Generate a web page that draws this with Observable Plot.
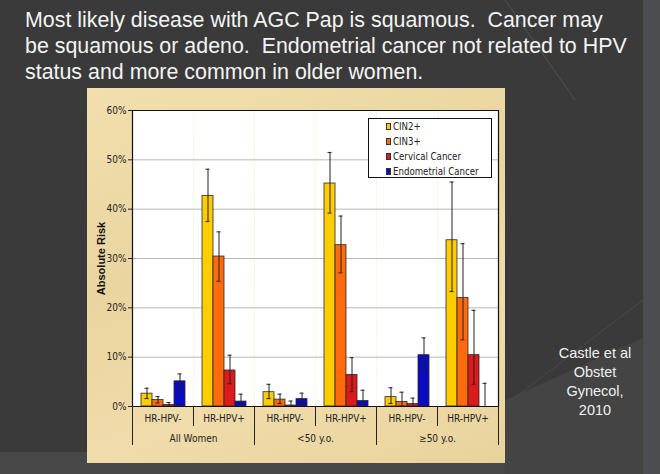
<!DOCTYPE html>
<html>
<head>
<meta charset="utf-8">
<script src="https://cdn.jsdelivr.net/npm/d3@7"></script>
<script src="https://cdn.jsdelivr.net/npm/@observablehq/plot@0.6"></script>
<style>
  html, body { margin: 0; padding: 0; }
  body { width: 660px; height: 474px; overflow: hidden; background: #3a3a3a; }
  #slide { position: relative; width: 660px; height: 474px; }
  #bg { position: absolute; left: 0; top: 0; }
  #title { position: absolute; left: 25px; top: 7px; color: #f4f4f4;
    font-family: "Liberation Sans", Arial, sans-serif; font-size: 21.4px; line-height: 26px; white-space: pre; }
  #panel { position: absolute; left: 87px; top: 88px; width: 418px; height: 375px;
    background: linear-gradient(160deg, #f1dfad 0%, #ead59f 40%, #f0dcaa 70%, #e9d39c 100%); }
  #chart { position: absolute; left: 0; top: 0; }
  #legend { position: absolute; left: 281px; top: 30px; width: 124px; height: 60px;
    background: #fff; border: 1px solid #111; box-sizing: border-box; padding-top: 0px; }
  .lg { position: relative; height: 15px; line-height: 15px; padding-left: 24px; font-size: 9.6px; color: #222;
    font-family: "Liberation Sans Narrow", "Arial Narrow", "DejaVu Sans Condensed", sans-serif; white-space: nowrap; }
  .lg span.sw { position: absolute; left: 17px; top: 4px; width: 5px; height: 7px; border: 1px solid #333; box-sizing: border-box; }
  #cite { position: absolute; left: 545px; top: 344px; width: 100px; text-align: center; color: #f0f0f0;
    font-family: "Liberation Sans", Arial, sans-serif; font-size: 14.5px; line-height: 19px; }
  svg text { font-family: "Liberation Sans Narrow", "Arial Narrow", "DejaVu Sans Condensed", sans-serif; }
  svg text.ylab { font-family: "Liberation Sans", Arial, sans-serif; }
</style>
</head>
<body>
<div id="slide">
  <svg id="bg" width="660" height="474">
    <rect width="660" height="474" fill="#3a3a3a"/>
    <polygon points="0,452 643,452 643,474 0,474" fill="#484848"/>
    <polygon points="505,400 643,338 643,474 505,474" fill="#444"/>
    <line x1="505" y1="0" x2="575" y2="100" stroke="#4d4d4d" stroke-width="1.2"/>
    <line x1="505" y1="405" x2="643" y2="300" stroke="#4a4a4a" stroke-width="1"/>
    <rect x="643" y="0" width="17" height="474" fill="#4b4d50"/>
  </svg>
  <div id="title">Most likely disease with AGC Pap is squamous.  Cancer may
be squamous or adeno.  Endometrial cancer not related to HPV
status and more common in older women.</div>
  <div id="panel">
    <div id="chart"></div>
    <div id="legend"></div>
  </div>
  <div id="cite">Castle et al<br>Obstet<br>Gynecol,<br>2010</div>
</div>
<script>
// ---- data ----
const groups = ["All Women", "<50 y.o.", "≥50 y.o."];
const hpvStatus = ["HR-HPV-", "HR-HPV+"];
const series = ["CIN2+", "CIN3+", "Cervical Cancer", "Endometrial Cancer"];
const seriesColors = ["#ffcc00", "#ff6a0d", "#dc1a1a", "#0a0ac0"];
const yTicks = [0, 10, 20, 30, 40, 50, 60];
// absolute risk (%), one row per group × HPV status, columns in series order
const risk = [
  [2.6, 1.3, 0.3, 5.1],
  [42.7, 30.4, 7.3, 1.0],
  [2.9, 1.4, 0.2, 1.5],
  [45.2, 32.7, 6.4, 1.1],
  [1.9, 0.9, 0.5, 10.4],
  [33.7, 22.0, 10.4, 0.0]
];
const lower = [
  [1.6, 0.7, 0.0, 3.6],
  [37.5, 25.4, 4.6, 0.0],
  [1.6, 0.6, 0.0, 0.5],
  [39.2, 27.1, 3.0, 0.0],
  [0.6, 0.1, 0.0, 7.6],
  [23.3, 13.5, 4.5, 0.0]
];
const upper = [
  [3.7, 2.0, 0.8, 6.6],
  [48.1, 35.4, 10.4, 2.5],
  [4.5, 2.5, 1.1, 2.7],
  [51.5, 38.6, 9.9, 3.3],
  [3.8, 2.9, 1.7, 13.9],
  [45.5, 33.0, 19.5, 4.7]
];

// ---- build table ----
const keys = groups.flatMap(g => hpvStatus.map(h => g + "|" + h));
const rows = [];
keys.forEach((k, ci) => series.forEach((s, si) => rows.push({
  key: k, series: s, value: risk[ci][si], lo: lower[ci][si], hi: upper[ci][si]
})));

const W = 418, H = 375, mL = 44, mT = 22, mR = 6, mB = 57;
const innerH = H - mT - mB;

const separators = keys.map((k, i) => Plot.frame({
  fx: k, anchor: "left", stroke: "#222", strokeWidth: 1,
  insetTop: innerH, insetBottom: i % 2 === 0 ? -38 : -19
}));

const chart = Plot.plot({
  width: W, height: H,
  marginLeft: mL, marginTop: mT, marginRight: mR, marginBottom: mB,
  style: {background: "transparent", fontSize: "10px", color: "#222", overflow: "visible"},
  fx: {domain: keys, padding: 0, axis: "bottom", label: null, tickSize: 0, tickPadding: 8,
       tickFormat: k => k.split("|")[1]},
  x: {domain: series, paddingInner: 0, paddingOuter: 0.65, axis: null},
  y: {domain: [0, 60], axis: null},
  color: {domain: series, range: seriesColors},
  marks: [
    Plot.frame({fill: "#fff", stroke: "none"}),
    Plot.ruleY(yTicks.filter(t => t > 0 && t < 60), {stroke: "#b8b8b8", strokeWidth: 1}),
    Plot.barY(rows, {fx: "key", x: "series", y: "value", fill: "series", stroke: "#2a2a2a", strokeWidth: 0.8}),
    Plot.ruleX(rows, {fx: "key", x: "series", y1: "lo", y2: "hi", stroke: "#222", strokeWidth: 1}),
    Plot.tickY(rows, {fx: "key", x: "series", y: "hi", stroke: "#222", insetLeft: 3.5, insetRight: 3.5}),
    Plot.tickY(rows, {fx: "key", x: "series", y: "lo", stroke: "#222", insetLeft: 3.5, insetRight: 3.5}),
    Plot.ruleY([0], {stroke: "#111", strokeWidth: 1.2}),
    Plot.ruleY([60], {stroke: "#111", strokeWidth: 1.2}),
    Plot.frame({fx: keys[0], anchor: "left", stroke: "#111", strokeWidth: 1.2}),
    Plot.frame({fx: keys[keys.length - 1], anchor: "right", stroke: "#111", strokeWidth: 1.2}),
    ...separators,
    Plot.frame({fx: keys[keys.length - 1], anchor: "right", stroke: "#222", insetTop: innerH, insetBottom: -38}),
    Plot.axisY({fx: keys[0], ticks: yTicks, tickFormat: d => d + "%", tickSize: 4, tickPadding: 2, label: null, fontSize: 10}),
    Plot.text(["Absolute Risk"], {fx: () => keys[0], text: d => d, frameAnchor: "left", textAnchor: "middle",
      rotate: -90, dx: -31, fontWeight: "bold", fontSize: 11, fill: "#111"}),
    Plot.text(groups, {fx: g => g + "|" + hpvStatus[1], text: d => d, frameAnchor: "bottom-left",
      textAnchor: "middle", lineAnchor: "middle", dy: 32, fontSize: 10})
  ]
});
chart.querySelectorAll("text").forEach(t => { if (t.textContent === "Absolute Risk") t.classList.add("ylab"); });
document.getElementById("chart").appendChild(chart);

// legend
const lg = document.getElementById("legend");
series.forEach((s, i) => {
  const d = document.createElement("div");
  d.className = "lg";
  d.innerHTML = `<span class="sw" style="background:${seriesColors[i]}"></span>`;
  d.appendChild(document.createTextNode(s));
  lg.appendChild(d);
});
</script>
</body>
</html>
